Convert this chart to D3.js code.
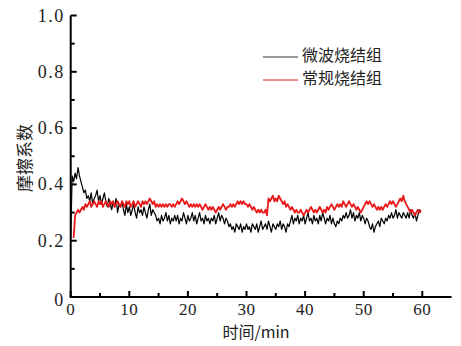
<!DOCTYPE html>
<html><head><meta charset="utf-8">
<script src="https://cdn.jsdelivr.net/npm/d3@7"></script>
<style>body{margin:0;background:#fff}</style>
</head><body>
<svg id="chart" width="461" height="346"></svg>
<script>
const timeStep = 0.25;
const seriesNames = ["微波烧结组", "常规烧结组"];
const seriesColors = ["#000000", "#e8191b"];
const yTickValues = [0, 0.2, 0.4, 0.6, 0.8, 1.0];
const yTickLabels = ["0", "0.2", "0.4", "0.6", "0.8", "1.0"];
const xTickValues = [0, 10, 20, 30, 40, 50, 60];
const xTickLabels = ["0", "10", "20", "30", "40", "50", "60"];
// 微波烧结组 (black), t = 0 .. 59.75 step 0.25
const microwave = [
 0.21,0.43,0.41,0.44,0.42,0.46,0.43,0.41,0.39,0.37,0.38,0.35,
 0.36,0.34,0.37,0.33,0.35,0.36,0.38,0.34,0.36,0.33,0.35,0.37,
 0.34,0.32,0.35,0.33,0.31,0.34,0.32,0.35,0.30,0.33,0.32,0.34,
 0.31,0.29,0.33,0.30,0.32,0.29,0.31,0.33,0.30,0.28,0.32,0.30,
 0.31,0.29,0.32,0.30,0.28,0.31,0.33,0.29,0.31,0.30,0.29,0.27,
 0.28,0.26,0.29,0.27,0.28,0.30,0.27,0.29,0.26,0.28,0.27,0.29,
 0.27,0.29,0.26,0.28,0.27,0.30,0.28,0.26,0.29,0.27,0.28,0.30,
 0.27,0.29,0.26,0.28,0.30,0.27,0.28,0.26,0.29,0.27,0.28,0.26,
 0.28,0.27,0.29,0.26,0.28,0.30,0.27,0.29,0.28,0.26,0.28,0.27,
 0.25,0.26,0.24,0.25,0.23,0.26,0.25,0.24,0.26,0.23,0.25,0.24,
 0.26,0.24,0.25,0.23,0.26,0.25,0.24,0.26,0.23,0.25,0.27,0.24,
 0.25,0.26,0.24,0.27,0.25,0.23,0.26,0.25,0.24,0.26,0.25,0.27,
 0.24,0.26,0.25,0.23,0.26,0.25,0.27,0.29,0.26,0.28,0.27,0.29,
 0.26,0.28,0.27,0.29,0.26,0.28,0.30,0.27,0.28,0.26,0.29,0.27,
 0.28,0.26,0.29,0.27,0.30,0.28,0.26,0.28,0.27,0.29,0.26,0.28,
 0.26,0.25,0.27,0.26,0.28,0.27,0.29,0.28,0.30,0.28,0.29,0.31,
 0.28,0.30,0.27,0.29,0.28,0.30,0.27,0.29,0.28,0.26,0.28,0.27,
 0.25,0.24,0.26,0.23,0.25,0.26,0.27,0.25,0.28,0.27,0.26,0.28,
 0.27,0.29,0.28,0.30,0.28,0.29,0.31,0.28,0.30,0.29,0.28,0.30,
 0.29,0.28,0.30,0.28,0.31,0.29,0.28,0.30,0.27,0.29,0.31,0.30
];
// 常规烧结组 (red), same times; null = not yet recorded
const conventional = [
 null,null,0.21,0.29,0.30,0.31,0.30,0.31,0.32,0.31,0.33,0.32,
 0.33,0.34,0.32,0.33,0.34,0.33,0.32,0.34,0.33,0.34,0.32,0.33,
 0.34,0.33,0.32,0.34,0.33,0.34,0.32,0.33,0.34,0.33,0.32,0.34,
 0.33,0.32,0.34,0.33,0.34,0.32,0.33,0.34,0.32,0.33,0.34,0.33,
 0.32,0.34,0.33,0.34,0.33,0.34,0.35,0.34,0.33,0.34,0.32,0.33,
 0.32,0.33,0.32,0.33,0.32,0.33,0.32,0.33,0.33,0.32,0.33,0.32,
 0.33,0.34,0.33,0.34,0.35,0.34,0.33,0.34,0.33,0.32,0.33,0.32,
 0.33,0.32,0.33,0.32,0.33,0.32,0.31,0.32,0.33,0.32,0.31,0.32,
 0.31,0.32,0.31,0.30,0.31,0.32,0.31,0.32,0.33,0.32,0.31,0.32,
 0.32,0.33,0.32,0.33,0.32,0.33,0.34,0.33,0.34,0.33,0.34,0.33,
 0.33,0.32,0.33,0.32,0.31,0.32,0.31,0.30,0.31,0.30,0.31,0.30,
 0.30,0.31,0.29,0.35,0.34,0.35,0.36,0.34,0.35,0.34,0.36,0.35,
 0.34,0.33,0.34,0.32,0.33,0.32,0.31,0.32,0.31,0.30,0.31,0.30,
 0.30,0.31,0.30,0.29,0.30,0.31,0.30,0.31,0.32,0.31,0.30,0.31,
 0.30,0.31,0.32,0.31,0.30,0.31,0.30,0.32,0.31,0.32,0.33,0.32,
 0.31,0.32,0.33,0.32,0.33,0.32,0.34,0.33,0.32,0.33,0.34,0.33,
 0.32,0.33,0.32,0.31,0.32,0.31,0.30,0.31,0.32,0.33,0.34,0.33,
 0.34,0.33,0.32,0.33,0.32,0.31,0.32,0.31,0.32,0.31,0.32,0.33,
 0.32,0.33,0.34,0.33,0.34,0.33,0.32,0.33,0.34,0.35,0.34,0.36,
 0.34,0.33,0.32,0.31,0.30,0.31,0.30,0.29,0.30,0.31,0.30,0.31
];

const svg = d3.select("#chart");
const x = d3.scaleLinear().domain([0, 65]).range([70.7, 451.6]);
const y = d3.scaleLinear().domain([0, 1]).range([297, 15.5]);
const SERIF = '"Liberation Serif", "DejaVu Serif", serif';
const CJK = '"Noto Sans CJK SC", "Noto Sans", sans-serif';

const line = d3.line()
  .defined(d => d.v !== null)
  .x(d => x(d.t)).y(d => y(d.v));

[microwave, conventional].forEach((vals, i) => {
  const pts = vals.map((v, k) => ({t: k * timeStep, v}));
  svg.append("path").datum(pts)
    .attr("d", line)
    .attr("fill", "none")
    .attr("stroke", seriesColors[i])
    .attr("stroke-width", i === 1 ? 1.8 : 1.2)
    .attr("stroke-linejoin", "round");
});

// Y axis
const gy = svg.append("g").attr("transform", `translate(${x(0)},0)`);
gy.append("line").attr("x1", 0).attr("x2", 0).attr("y1", y(1)).attr("y2", y(0))
  .attr("stroke", "#000").attr("stroke-width", 2);
gy.selectAll("line.tk").data(d3.range(0, 11)).join("line").attr("class", "tk")
  .attr("x1", 0).attr("x2", d => d % 2 === 0 ? 6 : 4)
  .attr("y1", d => y(d / 10)).attr("y2", d => y(d / 10))
  .attr("stroke", "#000").attr("stroke-width", 2);
gy.selectAll("text").data(yTickValues).join("text")
  .style("font-family", SERIF)
  .style("font-size", "18px")
  .attr("x", -6).attr("y", d => y(d) + (d === 0 ? 9 : 6))
  .attr("text-anchor", "end")
  .attr("letter-spacing", 1.5)
  .attr("fill", "#222")
  .text((d, i) => yTickLabels[i]);

// X axis
const gx = svg.append("g").attr("transform", `translate(0,${y(0)})`);
gx.append("line").attr("x1", x(0) - 1).attr("x2", x(65)).attr("y1", 0).attr("y2", 0)
  .attr("stroke", "#000").attr("stroke-width", 2);
gx.selectAll("line.tk").data(d3.range(0, 13)).join("line").attr("class", "tk")
  .attr("x1", d => x(d * 5)).attr("x2", d => x(d * 5))
  .attr("y1", 0).attr("y2", d => d % 2 === 0 ? -6 : -4)
  .attr("stroke", "#000").attr("stroke-width", 2);
gx.selectAll("text").data(xTickValues).join("text")
  .style("font-family", SERIF)
  .style("font-size", "17px")
  .attr("x", d => x(d)).attr("y", 18)
  .attr("text-anchor", "middle")
  .attr("letter-spacing", 0.5)
  .attr("fill", "#222")
  .text((d, i) => xTickLabels[i]);

// Axis titles
svg.append("text")
  .style("font-family", CJK).style("font-size", "16px")
  .attr("x", 256).attr("y", 338).attr("text-anchor", "middle")
  .attr("fill", "#222")
  .text("时间/min");
svg.append("text")
  .style("font-family", CJK).style("font-size", "17px")
  .attr("transform", "translate(31,158) rotate(-90)")
  .attr("text-anchor", "middle")
  .attr("fill", "#222")
  .text("摩擦系数");

// Legend
const legY = [55, 78];
seriesNames.forEach((name, i) => {
  svg.append("line").attr("x1", 263).attr("x2", 298)
    .attr("y1", legY[i] + 2).attr("y2", legY[i] + 2)
    .attr("stroke", i === 0 ? "#333" : "#e8191b").attr("stroke-width", 1);
  svg.append("text")
    .style("font-family", CJK).style("font-size", "16px")
    .attr("x", 302).attr("y", legY[i] + 6)
    .attr("fill", "#222")
    .text(name);
});
</script>
</body></html>
